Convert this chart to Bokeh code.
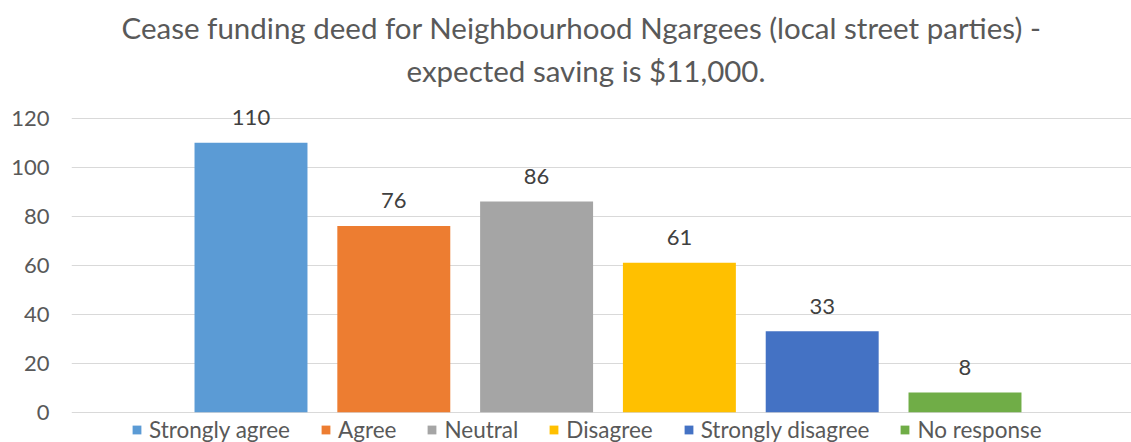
from bokeh.plotting import figure
from bokeh.models import ColumnDataSource, FixedTicker, Legend, LegendItem, Title, Range1d
from bokeh.core.properties import value
from bokeh.embed import file_html
from bokeh.resources import INLINE

categories = ["Strongly agree", "Agree", "Neutral", "Disagree", "Strongly disagree", "No response"]
counts = [110, 76, 86, 61, 33, 8]
colors = ["#5B9BD5", "#ED7D31", "#A5A5A5", "#FFC000", "#4472C4", "#70AD47"]
y_ticks = [0, 20, 40, 60, 80, 100, 120]
title_lines = ["Cease funding deed for Neighbourhood Ngargees (local street parties) -",
               "expected saving is $11,000."]

FONT = "Lato"
xpos = list(range(1, len(categories) + 1))
src = ColumnDataSource(dict(x=xpos, y=counts, cat=categories, color=colors,
                            lab=[str(c) for c in counts]))

p = figure(width=1131, height=442, output_backend="svg", toolbar_location=None,
           x_range=Range1d(-0.257, 7.166), y_range=Range1d(-12.37, 127.22),
           min_border_left=71, min_border_right=0, min_border_top=100, min_border_bottom=0)
p.title = None
p.add_layout(Title(text=title_lines[1], align="left", text_font=FONT, text_font_size="29.5px",
                   text_font_style="normal", text_color="#595959", standoff=26, offset=335), "above")
p.add_layout(Title(text=title_lines[0], align="left", text_font=FONT, text_font_size="29.5px",
                   text_font_style="normal", text_color="#595959", standoff=-15, offset=50), "above")

p.outline_line_color = None
p.xaxis.visible = False
p.xgrid.visible = False
p.ygrid.grid_line_color = "#D9D9D9"
p.ygrid.grid_line_width = 1
p.yaxis.ticker = FixedTicker(ticks=y_ticks)
p.yaxis.axis_line_color = None
p.yaxis.major_tick_line_color = None
p.yaxis.minor_tick_line_color = None
p.yaxis.major_tick_out = 0
p.yaxis.major_label_standoff = 22
p.yaxis.major_label_text_font = FONT
p.yaxis.major_label_text_font_size = "22px"
p.yaxis.major_label_text_color = "#595959"

r = p.vbar(x="x", top="y", width=0.791, bottom=0, color="color", line_color=None, source=src)
p.text(x="x", y="y", text="lab", source=src, text_align="center", text_baseline="middle",
       y_offset=-25, text_font=value(FONT), text_font_size="22px", text_color="#404040")

items = [LegendItem(label=c, renderers=[r], index=i) for i, c in enumerate(categories)]
legend = Legend(items=items, orientation="horizontal", location=(60, -1),
                label_text_font=FONT, label_text_font_size="22.5px", label_text_color="#595959",
                glyph_width=11, glyph_height=11, label_standoff=7, spacing=30,
                border_line_color=None, background_fill_alpha=0, padding=0, margin=0)
p.add_layout(legend, "center")

open("out.html", "w").write(file_html(p, INLINE))
